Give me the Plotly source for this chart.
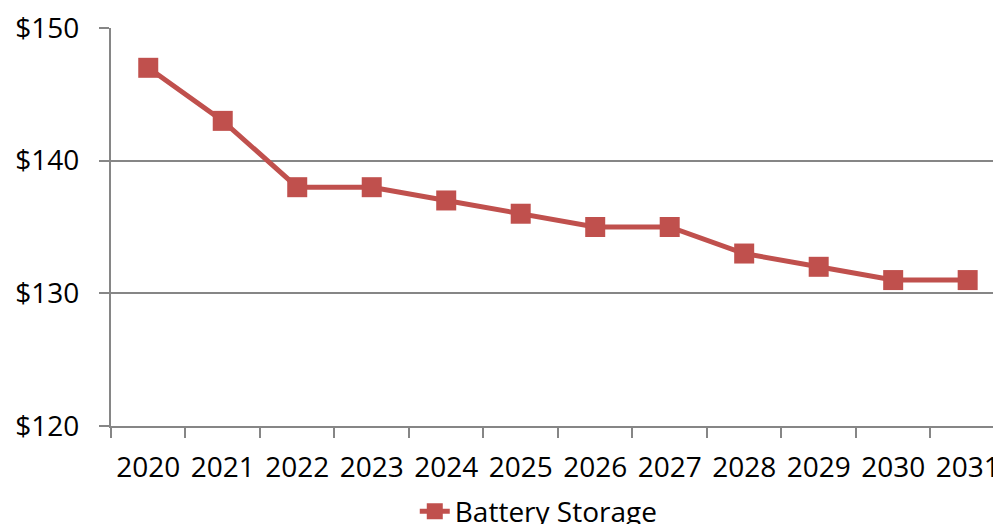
import plotly.graph_objects as go

# Projected battery storage cost by year
years = ["2020", "2021", "2022", "2023", "2024", "2025",
         "2026", "2027", "2028", "2029", "2030", "2031"]
battery_storage = [147, 143, 138, 138, 137, 136, 135, 135, 133, 132, 131, 131]

line_color = "#C0504D"
axis_color = "#868686"
font_family = "Open Sans, Noto Sans, sans-serif"

fig = go.Figure()
fig.add_trace(go.Scatter(
    x=years,
    y=battery_storage,
    mode="lines+markers",
    name="Battery Storage",
    line=dict(color=line_color, width=5),
    marker=dict(symbol="square", size=20, color=line_color),
))

fig.update_layout(
    width=993,
    height=524,
    margin=dict(l=111, r=0, t=28, b=98, autoexpand=False),
    paper_bgcolor="white",
    plot_bgcolor="white",
    font=dict(family=font_family, size=28, color="black"),
    showlegend=True,
    legend=dict(
        orientation="h",
        x=0.485, xanchor="center",
        y=-0.215, yanchor="middle",
        font=dict(size=28),
        bgcolor="rgba(0,0,0,0)",
    ),
)

fig.update_xaxes(
    type="category",
    range=[-0.5, 11.34],
    tickson="boundaries",
    ticks="outside",
    ticklen=10,
    tickwidth=2,
    tickcolor=axis_color,
    tickangle=0,
    showline=True,
    linecolor=axis_color,
    linewidth=2,
    showgrid=False,
    ticklabelstandoff=15,
    automargin=False,
    fixedrange=True,
)

fig.update_yaxes(
    range=[120, 150],
    dtick=10,
    tickprefix="$",
    ticks="outside",
    ticklen=10,
    tickwidth=2,
    tickcolor=axis_color,
    showline=True,
    linecolor=axis_color,
    linewidth=2,
    showgrid=True,
    gridcolor=axis_color,
    gridwidth=1.5,
    zeroline=False,
    ticklabelstandoff=14,
    automargin=False,
    fixedrange=True,
)

fig.write_html("out.html")
